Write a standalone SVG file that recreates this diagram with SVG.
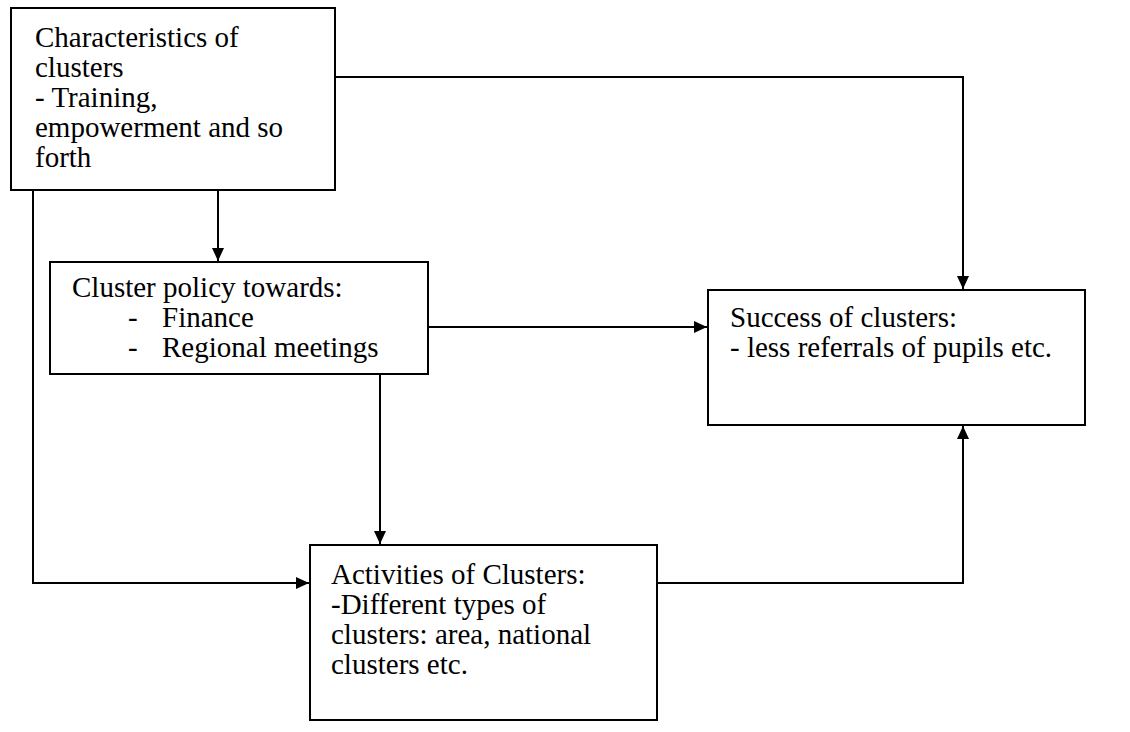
<svg xmlns="http://www.w3.org/2000/svg" width="1130" height="732" viewBox="0 0 1130 732">
<style>
.box{fill:#fff;stroke:#000;stroke-width:2}
.t{font-family:"Liberation Serif","Times New Roman",serif;font-size:29px;fill:#000}
.c{fill:none;stroke:#000;stroke-width:2}
</style>
<defs>
<marker id="ah" viewBox="0 0 13 12" refX="13" refY="6" markerWidth="13" markerHeight="12" markerUnits="userSpaceOnUse" orient="auto">
<path d="M0,0 L13,6 L0,12 z" fill="#000"/>
</marker>
</defs>
<rect width="1130" height="732" fill="#fff"/>
<g id="connectors">
<path class="c" d="M335,77 H963 V289" marker-end="url(#ah)"/>
<path class="c" d="M218,190 V261" marker-end="url(#ah)"/>
<path class="c" d="M33,190 V583 H309" marker-end="url(#ah)"/>
<path class="c" d="M428,327 H707" marker-end="url(#ah)"/>
<path class="c" d="M380,374 V544" marker-end="url(#ah)"/>
<path class="c" d="M657,583 H963 V426" marker-end="url(#ah)"/>
</g>
<g id="characteristics">
<rect class="box" x="11" y="8" width="324" height="182"/>
<text class="t" x="35" y="47">Characteristics of</text>
<text class="t" x="35" y="77">clusters</text>
<text class="t" x="35" y="107">- Training,</text>
<text class="t" x="35" y="137">empowerment and so</text>
<text class="t" x="35" y="167">forth</text>
</g>
<g id="policy">
<rect class="box" x="50" y="262" width="378" height="112"/>
<text class="t" x="72" y="297">Cluster policy towards:</text>
<text class="t" x="128" y="327">-</text>
<text class="t" x="162" y="327">Finance</text>
<text class="t" x="128" y="357">-</text>
<text class="t" x="162" y="357">Regional meetings</text>
</g>
<g id="success">
<rect class="box" x="708" y="290" width="377" height="135"/>
<text class="t" x="730" y="327">Success of clusters:</text>
<text class="t" x="730" y="357">- less referrals of pupils etc.</text>
</g>
<g id="activities">
<rect class="box" x="310" y="545" width="347" height="175"/>
<text class="t" x="331" y="584">Activities of Clusters:</text>
<text class="t" x="331" y="614">-Different types of</text>
<text class="t" x="331" y="644">clusters: area, national</text>
<text class="t" x="331" y="674">clusters etc.</text>
</g>
</svg>
